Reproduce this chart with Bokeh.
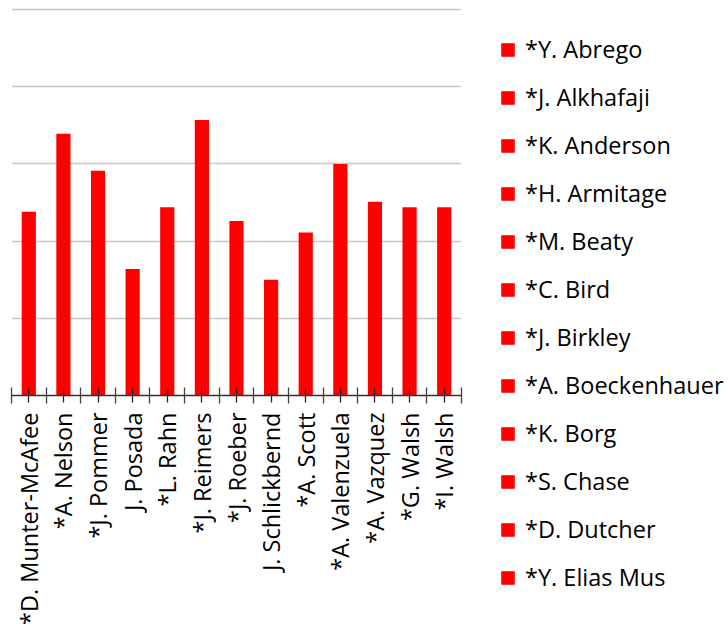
from bokeh.plotting import figure
from bokeh.models import (Range1d, FixedTicker, Legend, LegendItem, ColumnDataSource)
from bokeh.embed import file_html
from bokeh.resources import INLINE
import math

names = ["*D. Munter-McAfee", "*A. Nelson", "*J. Pommer", "J. Posada", "*L. Rahn",
         "*J. Reimers", "*J. Roeber", "J. Schlickbernd", "*A. Scott", "*A. Valenzuela",
         "*A. Vazquez", "*G. Walsh", "*I. Walsh"]
values = [2.38, 3.39, 2.91, 1.64, 2.44, 3.57, 2.26, 1.50, 2.11, 3.00, 2.51, 2.44, 2.44]
legend_names = ["*Y. Abrego", "*J. Alkhafaji", "*K. Anderson", "*H. Armitage", "*M. Beaty",
                "*C. Bird", "*J. Birkley", "*A. Boeckenhauer", "*K. Borg", "*S. Chase",
                "*D. Dutcher", "*Y. Elias Mus"]
y_ticks = [0, 1, 2, 3, 4, 5]

FONT = "Open Sans"
n = len(names)
xs = list(range(n))
src = ColumnDataSource(dict(x=xs, top=values))

p = figure(frame_width=450, frame_height=388, output_backend="svg", toolbar_location=None,
           x_range=Range1d(-0.5, n - 0.5), y_range=Range1d(0, 5.026))
p.min_border_left = 11
p.min_border_top = 7
p.min_border_bottom = 230
p.min_border_right = 266
p.outline_line_color = None
p.background_fill_color = "white"
p.border_fill_color = "white"

r = p.vbar(x="x", top="top", width=0.41, bottom=0, source=src,
           fill_color="#ff0000", line_color=None)

p.yaxis.visible = False
p.yaxis.ticker = FixedTicker(ticks=y_ticks)
p.ygrid.ticker = FixedTicker(ticks=y_ticks)
p.ygrid.grid_line_color = "#c8c8c8"
p.ygrid.grid_line_width = 1.3
p.xgrid.visible = False

ax = p.xaxis[0]
ax.ticker = FixedTicker(ticks=xs, minor_ticks=[i - 0.5 for i in range(n + 1)])
ax.major_label_overrides = {i: nm for i, nm in enumerate(names)}
ax.major_label_orientation = math.pi / 2
ax.major_label_text_font = FONT
ax.major_label_text_font_size = "23.5px"
ax.major_label_text_color = "#000000"
ax.major_label_standoff = 9
ax.axis_line_color = "#303030"
ax.axis_line_width = 1.5
ax.major_tick_in = 7
ax.major_tick_out = 7
ax.major_tick_line_color = "#202020"
ax.major_tick_line_width = 1.3
ax.minor_tick_in = 8
ax.minor_tick_out = 8
ax.minor_tick_line_color = "#404040"
ax.minor_tick_line_width = 1.3

legend = Legend(items=[LegendItem(label=nm, renderers=[r]) for nm in legend_names],
                location=(38, -198))
legend.label_text_font = FONT
legend.label_text_font_size = "23.5px"
legend.label_text_color = "#000000"
legend.glyph_width = 17
legend.glyph_height = 17
legend.label_standoff = 9
legend.spacing = 16
legend.margin = 0
legend.padding = 0
legend.border_line_color = None
legend.background_fill_alpha = 0
p.add_layout(legend, "right")

open("out.html", "w").write(file_html(p, INLINE))
